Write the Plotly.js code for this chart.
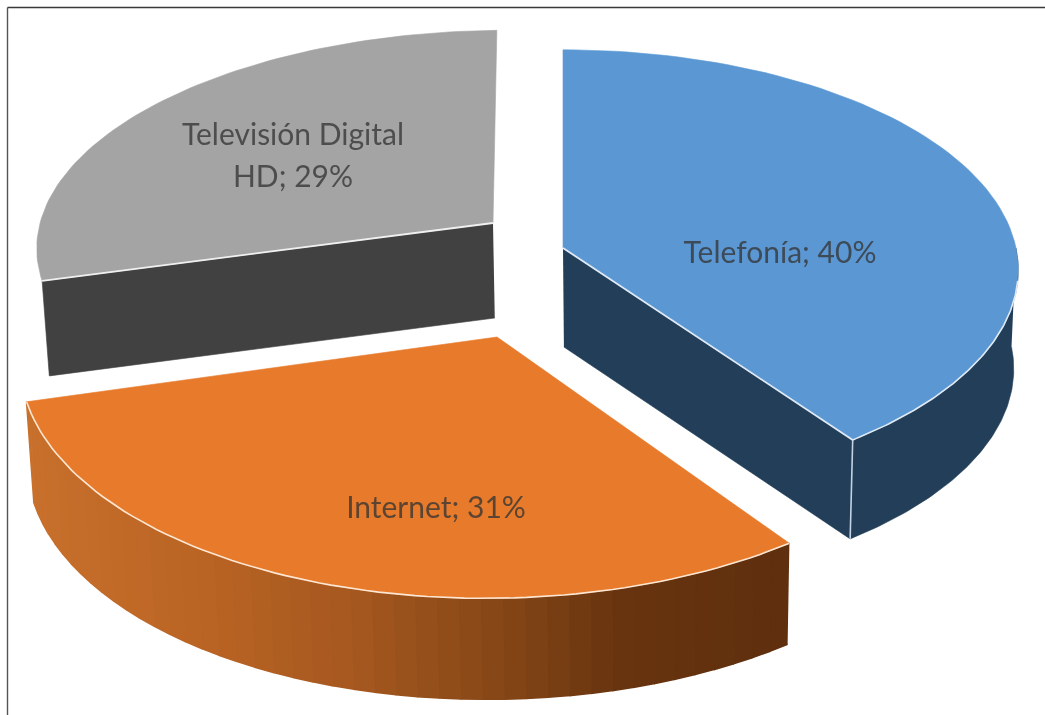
<!DOCTYPE html>
<html>
<head>
<meta charset="utf-8">
<script src="https://cdn.plot.ly/plotly-3.0.1.min.js"></script>
<style>
html,body{margin:0;padding:0;background:#fff;overflow:hidden}
#chart{width:1045px;height:715px;filter:blur(0.5px)}
</style>
</head>
<body>
<div id="chart"></div>
<script>
// Chart data
const categories = ['Telefonía', 'Internet', 'Televisión Digital HD'];
const values = [40, 31, 29];
const labelLines = [['Telefonía; 40%'], ['Internet; 31%'], ['Televisión Digital', 'HD; 29%']];

// Styles
const topColors = ['#5b98d3', '#e77b2b', '#a4a4a4'];
const sideColors = ['#223e58', null, '#414141'];
const edgeColors = ['#dfeaf5', '#fde6d2', '#f0f0f0'];
const orangeRamp = [[25,[200,112,44]],[200,[186,100,36]],[350,[166,88,31]],[500,[133,70,22]],[620,[104,52,15]],[790,[95,47,14]]];
const labelColor = 'rgba(52,52,52,0.78)';

// Projection of each exploded slice on the page: apex, radii, perspective, shear and thickness
const views = [
  {cx:563, cy:248, a:453, b:218, k:0.1,  sh:0,    sk:0,      drop:99},
  {cx:497, cy:337, a:476, b:243, k:0.07, sh:0.02, sk:-0.007, drop:101},
  {cx:493, cy:223, a:454, b:210, k:0.09, sh:0.02, sk:-0.01,  drop:95}
];
const labelAnchors = [[780,255],[436,510],[293,137]];
const lineGap = 42, vanishX = 640, tilt = 0.012;

const total = values.reduce((p,c)=>p+c,0);
const spans = []; let run = 0;
values.forEach(v=>{ const s = run/total*2*Math.PI; run += v; spans.push([s, run/total*2*Math.PI]); });

function lower(v, p){ return [p[0]+(vanishX-p[0])*tilt, p[1]+v.drop]; }
function pt(v, th, low){
  const w = 1 + v.k*Math.cos(th);
  const dx = v.a*Math.sin(th)/w, dy = -v.b*Math.cos(th)/w;
  const p = [v.cx + dx - v.sh*dy, v.cy + dy + v.sk*dx];
  return low ? lower(v,p) : p;
}
function arc(v, t0, t1, low){
  const out=[], n=80;
  for(let i=0;i<=n;i++) out.push(pt(v, t0+(t1-t0)*i/n, low));
  return out;
}
function poly(points, color, lw){
  return {type:'scatter', mode:'lines', x:points.map(p=>p[0]), y:points.map(p=>p[1]),
    fill:'toself', fillcolor:color, line:{width:lw||0.6, color:color}, hoverinfo:'skip', showlegend:false};
}
function edge(points, color, width){
  return {type:'scatter', mode:'lines', x:points.map(p=>p[0]), y:points.map(p=>p[1]),
    line:{width:width, color:color}, hoverinfo:'skip', showlegend:false};
}
function ramp(x){
  for(let i=1;i<orangeRamp.length;i++){
    if(x<=orangeRamp[i][0]){
      const [x0,c0]=orangeRamp[i-1],[x1,c1]=orangeRamp[i];
      const f=Math.max(0,(x-x0)/(x1-x0));
      return 'rgb('+c0.map((c,j)=>Math.round(c+(c1[j]-c)*f)).join(',')+')';
    }
  }
  return 'rgb('+orangeRamp[orangeRamp.length-1][1].join(',')+')';
}
const apexOf = v => [v.cx, v.cy];

const traces = [];
// Telefonía: walls
{
  const v=views[0], [t0,t1]=spans[0];
  const apex=apexOf(v), apexL=lower(v,apex), tip=pt(v,t1,false), tipL=pt(v,t1,true);
  traces.push(poly([apex,tip,tipL,apexL],sideColors[0]));
  const up=arc(v,t0+Math.PI/2,t1,false), lo=arc(v,t0+Math.PI/2,t1,true).reverse();
  traces.push(poly(up.concat(lo),sideColors[0]));
  traces.push(edge([tip,tipL],'#c3d3e3',1.6));
}
// Internet: wall shaded in strips
{
  const v=views[1], [t0,t1]=spans[1], n=45;
  for(let i=0;i<n;i++){
    const a=t0+(t1-t0)*i/n, b=t0+(t1-t0)*(i+1)/n;
    const p=[pt(v,a,false),pt(v,b,false),pt(v,b,true),pt(v,a,true)];
    traces.push(poly(p,ramp((p[0][0]+p[1][0])/2),1.6));
  }
}
// Televisión: wall
{
  const v=views[2], [t0]=spans[2], apex=apexOf(v);
  traces.push(poly([apex,pt(v,t0,false),pt(v,t0,true),lower(v,apex)],sideColors[2]));
}
// Top faces
values.forEach((val,i)=>{
  const v=views[i], [t0,t1]=spans[i];
  traces.push(poly([apexOf(v)].concat(arc(v,t0,t1,false)).concat([apexOf(v)]),topColors[i]));
});
// Light edges
traces.push(edge([apexOf(views[0]),pt(views[0],spans[0][1],false)],edgeColors[0],1.8));
traces.push(edge(arc(views[0],1.72,spans[0][1],false),edgeColors[0],1.6));
traces.push(edge(arc(views[1],spans[1][0],spans[1][1],false),edgeColors[1],1.6));
traces.push(edge([apexOf(views[2]),pt(views[2],spans[2][0],false)],edgeColors[2],1.8));
// Labels
categories.forEach((c,i)=>{
  labelLines[i].forEach((line,j)=>{
    traces.push({type:'scatter', mode:'text', x:[labelAnchors[i][0]], y:[labelAnchors[i][1]+j*lineGap],
      text:[line], textposition:'middle center', cliponaxis:false,
      textfont:{family:'Lato, sans-serif', size:30, color:labelColor},
      name:c, hoverinfo:'skip', showlegend:false});
  });
});

const layout = {
  width:1045, height:715, margin:{l:0,r:0,t:0,b:0}, showlegend:false,
  paper_bgcolor:'#fff', plot_bgcolor:'#fff',
  xaxis:{range:[0,1045], visible:false, fixedrange:true},
  yaxis:{range:[715,0], visible:false, fixedrange:true},
  shapes:[
    {type:'line', xref:'x', yref:'y', x0:7.5, x1:1045, y0:7.5, y1:7.5, line:{color:'#3a3a3a', width:1.4}},
    {type:'line', xref:'x', yref:'y', x0:7.5, x1:7.5, y0:7.5, y1:715, line:{color:'#555', width:1.4}}
  ]
};
Plotly.newPlot('chart', traces, layout, {displayModeBar:false, staticPlot:true});
</script>
</body>
</html>
